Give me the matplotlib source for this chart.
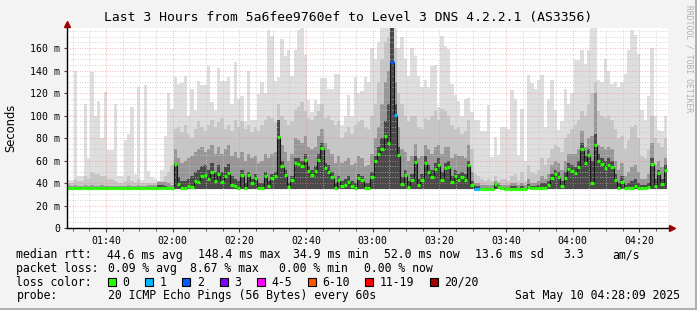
import numpy as np
import matplotlib.pyplot as plt
from matplotlib.patches import Rectangle

plt.rcParams['font.family'] = 'DejaVu Sans Mono'

# one bin per minute, first bin starts 01:28:18
t_start = 1 * 60 + 28.3
tick_times = ['01:40', '02:00', '02:20', '02:40', '03:00', '03:20', '03:40', '04:00', '04:20']

# median rtt per minute (ms)
median_ms = [
    35.5, 35.5, 35.5, 35.5, 35.5, 35.5, 35.5, 35.5, 35.5, 35.5, 35.5, 35.5, 35.5, 35.5, 35.5, 35.5,
    35.5, 35.5, 35.5, 35.5, 35.5, 35.5, 35.5, 36.0, 35.5, 35.5, 35.5, 35.5, 35.5, 35.5, 35.5, 35.5,
    56.7, 38.9, 35.6, 35.6, 37.2, 36.4, 41.7, 41.2, 46.5, 47.2, 43.5, 50.0, 41.4, 48.2, 41.3, 46.5,
    49.1, 38.3, 37.4, 35.6,
    47.5, 35.6, 46.9, 40.3, 44.8, 35.6, 35.6, 46.0, 37.4, 44.5, 46.0, 80.9, 55.2, 46.9, 36.5, 42.4,
    58.0, 57.2, 55.2, 60.3, 50.7, 47.5, 50.7, 60.5, 71.2, 53.7,
    50.1, 45.7, 35.9, 42.4, 37.0, 38.6, 41.0, 37.0, 35.6, 44.5, 42.7, 35.6, 35.6, 45.7, 59.9, 66.1,
    70.6, 81.8, 75.9, 147.9, 100.5, 65.2, 39.2, 47.2, 36.5, 42.4,
    58.7, 38.0, 42.4, 58.1, 50.1, 45.1, 52.8, 56.0, 43.0, 53.4, 54.0, 41.0, 46.3, 42.7, 45.1, 42.7,
    55.7, 38.0, 35.0, 35.0, 35.0, 35.0, 35.0, 35.0, 38.9, 36.8,
    35.3, 35.0, 35.0, 35.0, 35.0, 35.0, 35.0, 35.0, 36.5, 35.3, 35.3, 35.3, 35.3, 35.3, 38.0, 44.2,
    48.0, 45.7, 37.4, 44.2, 52.2, 51.0, 49.2, 54.6, 70.6, 58.0,
    64.5, 39.7, 74.0, 59.8, 57.0, 53.7, 56.0, 54.0, 42.7, 36.0, 40.8, 35.2, 35.2, 35.2, 37.5, 35.5,
    35.5, 35.5, 36.5, 56.8, 37.5, 48.8, 39.1, 51.8,
]

# smoke: highest ping and three inner percentile levels per minute (ms)
smoke_max = [
    43, 43, 140, 46, 46, 110, 62, 139, 100, 113, 80, 121, 69, 69, 110, 46,
    46, 78, 84, 108, 48, 125, 43, 127, 51, 45, 44, 42, 52, 82, 120, 106,
    134, 128, 129, 135, 100, 124, 105, 131, 127, 127, 144, 112, 105, 142, 131, 131,
    134, 110, 148, 115,
    117, 95, 140, 96, 96, 119, 130, 120, 176, 171, 131, 134, 168, 153, 158, 135,
    158, 176, 178, 154, 114, 103, 114, 110, 133, 133,
    124, 124, 137, 137, 92, 100, 118, 100, 134, 120, 122, 134, 130, 160, 150, 165,
    178, 178, 178, 178, 178, 160, 170, 150, 135, 160,
    153, 135, 125, 132, 125, 144, 145, 108, 171, 162, 159, 128, 118, 113, 100, 115,
    116, 103, 96, 96, 86, 86, 109, 63, 81, 65,
    90, 90, 88, 123, 115, 65, 106, 60, 136, 129, 124, 132, 136, 90, 115, 132,
    105, 87, 95, 124, 110, 120, 149, 149, 158, 146,
    158, 178, 178, 132, 130, 150, 140, 128, 130, 125, 130, 137, 158, 176, 172, 155,
    105, 96, 117, 160, 100, 87, 86, 100,
]
smoke_p90 = [
    40, 40, 44, 42, 42, 46, 44, 50, 48, 48, 46, 46, 44, 44, 42, 40,
    40, 42, 46, 42, 40, 44, 40, 40, 40, 40, 40, 42, 42, 46, 50, 56,
    88, 90, 85, 92, 84, 80, 88, 95, 90, 86, 92, 96, 90, 94, 98, 88,
    92, 86, 96, 90,
    95, 88, 92, 85, 90, 86, 92, 96, 100, 98, 94, 110, 100, 96, 92, 95,
    105, 108, 112, 104, 98, 96, 100, 104, 110, 98,
    100, 96, 92, 95, 80, 85, 90, 84, 92, 94, 96, 90, 88, 100, 110, 130,
    150, 165, 170, 178, 160, 120, 110, 100, 95, 100,
    100, 90, 88, 98, 96, 100, 104, 96, 106, 104, 100, 92, 88, 90, 84, 86,
    96, 70, 48, 46, 44, 42, 44, 42, 46, 42,
    44, 44, 42, 46, 48, 42, 50, 42, 56, 50, 48, 52, 62, 56, 62, 70,
    74, 72, 68, 80, 84, 88, 92, 96, 104, 100,
    110, 120, 130, 104, 100, 98, 100, 96, 88, 80, 82, 70, 78, 90, 92, 80,
    64, 62, 70, 100, 80, 76, 72, 80,
]
smoke_p75 = [
    38, 37, 38, 37, 37, 38, 37, 38, 37, 37, 38, 37, 37, 37, 37, 37,
    37, 37, 38, 37, 37, 38, 37, 37, 38, 38, 38, 41, 41, 41, 40, 38,
    70, 62, 58, 60, 62, 64, 68, 70, 72, 68, 70, 74, 66, 72, 66, 70,
    74, 64, 68, 62,
    68, 60, 66, 62, 64, 58, 60, 66, 62, 66, 68, 92, 74, 68, 60, 66,
    80, 78, 76, 82, 72, 70, 72, 82, 88, 76,
    70, 66, 58, 64, 58, 60, 62, 56, 58, 64, 62, 55, 56, 66, 80, 90,
    110, 130, 140, 178, 130, 90, 70, 68, 60, 64,
    75, 62, 64, 74, 70, 66, 72, 74, 66, 72, 72, 62, 66, 64, 64, 62,
    74, 50, 40, 40, 38, 38, 38, 38, 42, 40,
    38, 38, 38, 40, 40, 38, 40, 38, 44, 40, 40, 42, 46, 44, 48, 56,
    60, 58, 52, 60, 66, 66, 66, 70, 86, 72,
    80, 82, 120, 74, 72, 70, 72, 70, 60, 52, 58, 46, 50, 54, 56, 50,
    44, 44, 48, 76, 56, 60, 54, 62,
]
smoke_p60 = [
    36, 36, 36, 36, 36, 36, 36, 36, 36, 36, 36, 36, 36, 36, 36, 36,
    36, 36, 36, 36, 36, 36, 36, 36, 36, 36, 36, 38, 38, 37, 36, 36,
    58, 45, 42, 42, 44, 46, 50, 52, 55, 56, 52, 58, 50, 56, 50, 54,
    57, 46, 44, 42,
    52, 40, 50, 44, 48, 40, 40, 50, 42, 48, 50, 96, 60, 52, 40, 46,
    62, 62, 60, 66, 55, 52, 55, 66, 76, 58,
    56, 50, 40, 46, 42, 44, 46, 42, 40, 48, 46, 40, 40, 50, 64, 72,
    80, 95, 110, 178, 110, 72, 45, 52, 42, 48,
    64, 44, 48, 64, 56, 52, 58, 62, 50, 58, 60, 46, 52, 48, 50, 48,
    60, 42, 37, 37, 36, 36, 36, 36, 40, 38,
    36, 36, 36, 37, 37, 36, 37, 36, 39, 37, 37, 38, 40, 40, 42, 48,
    52, 50, 42, 50, 58, 56, 54, 60, 76, 64,
    70, 60, 84, 66, 62, 60, 62, 60, 48, 40, 46, 38, 40, 42, 44, 40,
    38, 38, 40, 62, 44, 52, 44, 56,
]
smoke_floor = 34.3

# lost pings (of 20) for the minutes that had loss
loss_events = {97: 2, 98: 1, 122: 1, 123: 1}

loss_labels = ['0', '1', '2', '3', '4-5', '6-10', '11-19', '20/20']
loss_colors = ['#26ff00', '#00b8ff', '#0059ff', '#7e00ff', '#ff00ff', '#ff5500', '#ff0000', '#a10000']

median_line1 = [('44.6 ms avg', 106.7), ('148.4 ms max', 198), ('34.9 ms min', 293),
                ('52.0 ms now', 384), ('13.6 ms sd', 475), ('3.3', 563), ('am/s', 612)]
loss_line = [('0.09 % avg', 107.6), ('8.67 % max', 190.2), ('0.00 % min', 279), ('0.00 % now', 364.4)]

W, H = 697, 310
fig = plt.figure(figsize=(W / 100, H / 100), dpi=100, facecolor='#f3f3f3')


def fx(x):
    return x / W


def fy(y):
    return 1 - y / H


ax = fig.add_axes([fx(67), fy(228), (668 - 67) / W, 200 / H])
ax.set_facecolor('white')

n = len(median_ms)
edges = np.arange(n + 1)

for vals, col in [(smoke_max, '#dedede'), (smoke_p90, '#c6c6c6'),
                  (smoke_p75, '#979797'), (smoke_p60, '#4a4a4a')]:
    v = np.append(vals, vals[-1])
    ax.fill_between(edges, smoke_floor, v, step='post', color=col, lw=0, zorder=1)

# connecting lines between medians
med = np.array(median_ms)
ax.vlines(edges[1:-1], med[:-1], med[1:], colors='#151515', lw=0.8, zorder=3)


def loss_color(k):
    if k == 0:
        return loss_colors[0]
    if k <= 3:
        return loss_colors[k]
    if k <= 5:
        return loss_colors[4]
    if k <= 10:
        return loss_colors[5]
    if k < 20:
        return loss_colors[6]
    return loss_colors[7]


cols = [loss_color(loss_events.get(i, 0)) for i in range(n)]
hl = ax.hlines(med, edges[:-1], edges[1:], colors=cols, lw=2.3, zorder=4)
hl.set_capstyle('butt')

# axes
ax.set_xlim(0, 180.3)
ax.set_ylim(0, 177.8)
tick_pos = [int(t[:2]) * 60 + int(t[3:]) - t_start for t in tick_times]
ax.set_xticks(tick_pos)
ax.set_xticklabels(tick_times)
ax.set_xticks(np.arange(tick_pos[0] - 10, 181, 5), minor=True)
ax.set_yticks(np.arange(0, 161, 20))
ax.set_yticklabels(['0'] + ['%d m' % v for v in range(20, 161, 20)])
ax.set_yticks(np.arange(0, 178, 5), minor=True)
ax.tick_params(axis='both', which='both', labelsize=7.1, direction='out', color='#444444')
ax.tick_params(axis='x', which='major', length=3, pad=2.5)
ax.tick_params(axis='x', which='minor', length=2)
ax.tick_params(axis='y', which='major', length=2, pad=3)
ax.tick_params(axis='y', which='minor', length=0)

ax.grid(which='major', color='#f08080', lw=0.6, ls=(0, (1, 2)), alpha=0.8)
ax.grid(which='minor', color='#c4c4c4', lw=0.6, ls=(0, (1, 2)))
ax.set_axisbelow(False)

for s in ['top', 'right']:
    ax.spines[s].set_visible(False)
for s in ['left', 'bottom']:
    ax.spines[s].set_linewidth(1)
    ax.spines[s].set_zorder(5)

# arrow heads
ax.plot([1.006], [0], marker='>', ms=4, color='#a00000', transform=ax.transAxes, clip_on=False)
ax.plot([0], [1.02], marker='^', ms=4, color='#a00000', transform=ax.transAxes, clip_on=False)

ax.set_ylabel('Seconds', fontsize=8.3, family='DejaVu Sans', labelpad=9)

fig.text(fx(348), fy(18), 'Last 3 Hours from 5a6fee9760ef to Level 3 DNS 4.2.2.1 (AS3356)',
         ha='center', va='center', fontsize=9.4)
fig.text(fx(689), fy(5), 'RRDTOOL / TOBI OETIKER', rotation=270, ha='center', va='top',
         fontsize=5.8, color='#b0b0b0')

# legend block
fs = 8.3
rows = [255, 268.5, 282, 296]
fig.text(fx(16.4), fy(rows[0]), 'median rtt:', va='center', fontsize=fs)
for s, x in median_line1:
    fig.text(fx(x), fy(rows[0]), s, va='center', fontsize=fs)
fig.text(fx(16.4), fy(rows[1]), 'packet loss:', va='center', fontsize=fs)
for s, x in loss_line:
    fig.text(fx(x), fy(rows[1]), s, va='center', fontsize=fs)
fig.text(fx(16.4), fy(rows[2]), 'loss color:', va='center', fontsize=fs)
box_x = [108, 145.3, 182.2, 219.6, 256.9, 307.6, 365.3, 430]
for bx, lab, col in zip(box_x, loss_labels, loss_colors):
    fig.add_artist(Rectangle((fx(bx), fy(rows[2] + 4.2)), 8 / W, 8.4 / H,
                             transform=fig.transFigure, facecolor=col, edgecolor='black', lw=0.8))
    fig.text(fx(bx + 14.5), fy(rows[2]), lab, va='center', fontsize=fs)
fig.text(fx(16.4), fy(rows[3]), 'probe:', va='center', fontsize=fs)
fig.text(fx(107.6), fy(rows[3]), '20 ICMP Echo Pings (56 Bytes) every 60s', va='center', fontsize=fs)
fig.text(fx(680), fy(rows[3]), 'Sat May 10 04:28:09 2025', va='center', ha='right', fontsize=fs)

# frame
fig.add_artist(plt.Line2D([0, 1], [fy(309), fy(309)], transform=fig.transFigure, color='#b0b0b0', lw=1.5))
fig.add_artist(plt.Line2D([fx(696), fx(696)], [0, 1], transform=fig.transFigure, color='#b0b0b0', lw=1.5))

fig.savefig('out.png', dpi=100, facecolor=fig.get_facecolor())
